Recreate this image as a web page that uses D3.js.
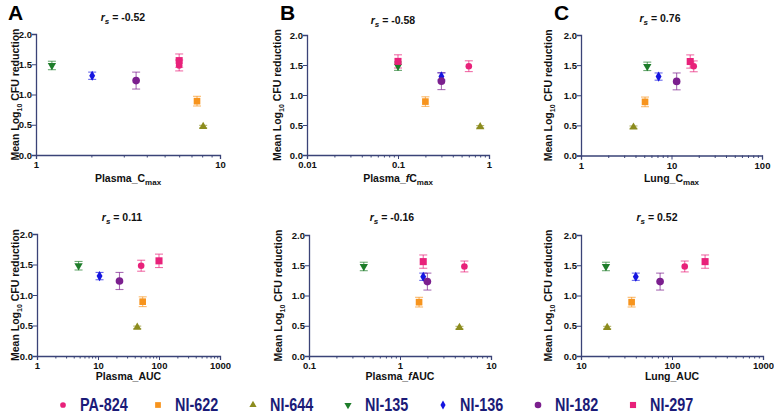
<!DOCTYPE html>
<html><head><meta charset="utf-8">
<script src="https://cdn.jsdelivr.net/npm/d3@7"></script>
<style>
body{margin:0;background:#fff;}
svg{display:block;font-family:"Liberation Sans",Arial,sans-serif;}
</style></head>
<body><svg id="c" width="774" height="416"></svg>
<script>
// ---- data ----
const compounds = ["PA-824","NI-622","NI-644","NI-135","NI-136","NI-182","NI-297"];
const meanReduction = [1.48, 0.89, 0.47, 1.48, 1.31, 1.23, 1.56];
const reductionErr = [0.09, 0.08, 0.02, 0.07, 0.06, 0.14, 0.11];
const plasmaCmax = [6.0, 7.5, 8.1, 1.22, 2.02, 3.5, 6.0];
const plasmaFCmax = [0.6, 0.2, 0.8, 0.1, 0.3, 0.3, 0.1];
const lungCmax = [17.6, 5.1, 3.8, 5.4, 7.2, 11.4, 16.1];
const plasmaAUC = [51, 54, 44, 4.8, 10.6, 22.5, 100];
const plasmaFAUC = [5.1, 1.62, 4.5, 0.40, 1.8, 2.0, 1.8];
const lungAUC = [138, 36, 19.4, 18.8, 40, 74, 231];
const rsValues = [-0.52, -0.58, 0.76, 0.11, -0.16, 0.52];
const yTicks = [0, 0.5, 1.0, 1.5, 2.0];

// ---- styles ----
const colors = ["#e8217a","#f7941d","#8c8c1e","#1e7d2a","#1515e0","#7b1f8e","#e8217a"];
const shapes = [d3.symbolCircle, d3.symbolSquare, d3.symbolTriangle, "down", d3.symbolDiamond, d3.symbolCircle, d3.symbolSquare];
const sizes = [34, 44, 30, 30, 30, 46, 50];
const axisColor = "#3a4377";

const panels = [
  {letter:"A", x:plasmaCmax, dom:[1,10], xr:[36,220], yr:[155,34], title:[123,17], lab:["Plasma_","","C","max"], labY:182, ytX:15, letterPos:[8,20]},
  {letter:"B", x:plasmaFCmax, dom:[0.01,1], xr:[307,489], yr:[155,35], title:[393,20], lab:["Plasma_","f","C","max"], labY:182, ytX:277, letterPos:[280,20]},
  {letter:"C", x:lungCmax, dom:[1,100], xr:[581,762], yr:[155.5,35], title:[660,18], lab:["Lung_","","C","max"], labY:182, ytX:548, letterPos:[554,20]},
  {letter:"", x:plasmaAUC, dom:[1,1000], xr:[37,220], yr:[356,234], title:[122,217], lab:["Plasma_AUC","","",""], labY:380, ytX:15},
  {letter:"", x:plasmaFAUC, dom:[0.1,10], xr:[309,491], yr:[356,235], title:[392,217], lab:["Plasma_","f","AUC",""], labY:380, ytX:278},
  {letter:"", x:lungAUC, dom:[10,1000], xr:[581,763], yr:[356,235], title:[657,217], lab:["Lung_AUC","","",""], labY:380, ytX:548}
];

const svg = d3.select("#c");
const fmt2 = v => d3.format(".2f")(v).replace("\u2212","-");

function sym(i, scale){
  const s = sizes[i] * (scale || 1);
  if (shapes[i] === "down") return d3.symbol().type(d3.symbolTriangle).size(s)();
  return d3.symbol().type(shapes[i]).size(s)();
}
function symTransform(i,x,y){
  return shapes[i]==="down" ? `translate(${x},${y}) rotate(180)` : `translate(${x},${y})`;
}

panels.forEach((p, pi) => {
  const xs = d3.scaleLog().domain(p.dom).range(p.xr);
  const ys = d3.scaleLinear().domain([0,2]).range(p.yr);
  const g = svg.append("g");

  // x axis
  const decades = [];
  for (let v = p.dom[0]; v <= p.dom[1]*1.0001; v *= 10) decades.push(v);
  const minor = [];
  for (let d = p.dom[0]; d < p.dom[1]*0.999; d *= 10) for (let k=2;k<10;k++) minor.push(d*k);
  const xa = g.append("g").attr("transform",`translate(0,${p.yr[0]})`)
    .call(d3.axisBottom(xs).tickValues(decades).tickFormat(d3.format("~g")).tickSizeOuter(0).tickSize(4));
  xa.selectAll("line").attr("stroke",axisColor);
  xa.select(".domain").attr("stroke",axisColor).attr("stroke-width",1.3);
  xa.selectAll("text").attr("font-size",9.5).attr("font-weight","bold").attr("fill","#111").attr("dy","0.75em").attr("y",6);
  const xm = g.append("g").attr("transform",`translate(0,${p.yr[0]})`)
    .call(d3.axisBottom(xs).tickValues(minor).tickFormat("").tickSizeOuter(0).tickSize(2.5));
  xm.select(".domain").remove();
  xm.selectAll("line").attr("stroke",axisColor);

  // y axis
  const ya = g.append("g").attr("transform",`translate(${p.xr[0]},0)`)
    .call(d3.axisLeft(ys).tickValues(yTicks).tickFormat(d3.format(".1f")).tickSizeOuter(0).tickSize(4));
  ya.selectAll("line").attr("stroke",axisColor);
  ya.select(".domain").attr("stroke",axisColor).attr("stroke-width",1.3);
  ya.selectAll("text").attr("font-size",9.5).attr("font-weight","bold").attr("fill","#111").attr("x",-4);

  // y title
  const yt = g.append("text")
    .attr("transform",`translate(${p.ytX},${(p.yr[0]+p.yr[1])/2}) rotate(-90)`)
    .attr("text-anchor","middle").attr("dy","0.35em")
    .attr("font-size",10.5).attr("font-weight","bold").attr("fill","#111");
  yt.append("tspan").text("Mean Log");
  yt.append("tspan").text("10").attr("font-size",7).attr("dy",3);
  yt.append("tspan").text(" CFU reduction").attr("dy",-3);

  // x title
  const xt = g.append("text").attr("x",(p.xr[0]+p.xr[1])/2).attr("y",p.labY)
    .attr("text-anchor","middle").attr("font-size",10.5).attr("font-weight","bold").attr("fill","#111");
  xt.append("tspan").text(p.lab[0]);
  if (p.lab[1]) xt.append("tspan").text(p.lab[1]).attr("font-style","italic");
  if (p.lab[2]) xt.append("tspan").text(p.lab[2]);
  if (p.lab[3]) xt.append("tspan").text(p.lab[3]).attr("font-size",8).attr("dy",3);

  // title r_s
  const tt = g.append("text").attr("x",p.title[0]).attr("y",p.title[1]+4)
    .attr("text-anchor","middle").attr("font-size",10.5).attr("font-weight","bold").attr("fill","#111");
  tt.append("tspan").text("r").attr("font-style","italic");
  tt.append("tspan").text("s").attr("font-style","italic").attr("font-size",8).attr("dy",2.5);
  tt.append("tspan").text(" = " + fmt2(rsValues[pi])).attr("dy",-2.5);

  if (p.letter) {
    g.append("text").attr("x",p.letterPos[0]).attr("y",p.letterPos[1])
      .attr("font-size",21).attr("font-weight","bold").attr("fill","#000").text(p.letter);
  }

  // error bars + points
  const idx = d3.range(compounds.length);
  idx.forEach(i => {
    const cx = xs(p.x[i]);
    const y0 = ys(meanReduction[i]-reductionErr[i]), y1 = ys(meanReduction[i]+reductionErr[i]);
    const eg = g.append("g").attr("stroke",colors[i]).attr("stroke-opacity",0.65).attr("stroke-width",1.1);
    eg.append("line").attr("x1",cx).attr("x2",cx).attr("y1",y0).attr("y2",y1);
    eg.append("line").attr("x1",cx-4).attr("x2",cx+4).attr("y1",y0).attr("y2",y0);
    eg.append("line").attr("x1",cx-4).attr("x2",cx+4).attr("y1",y1).attr("y2",y1);
  });
  idx.forEach(i => {
    g.append("path").attr("d",sym(i))
      .attr("transform",symTransform(i, xs(p.x[i]), ys(meanReduction[i])))
      .attr("fill",colors[i]);
  });
});

// legend
const legendX = d3.scalePoint().domain(compounds).range([63,633]);
const lg = svg.append("g");
compounds.forEach((c,i) => {
  const x = legendX(c), y = 405;
  lg.append("path").attr("d",sym(i,0.75)).attr("transform",symTransform(i,x,y)).attr("fill",colors[i]);
  lg.append("text").attr("transform",`translate(${x+17},${y}) scale(0.8,1)`).attr("dy","0.36em")
    .attr("font-size",18).attr("font-weight","bold").attr("fill","#1b1b78").text(c);
});
</script></body></html>
